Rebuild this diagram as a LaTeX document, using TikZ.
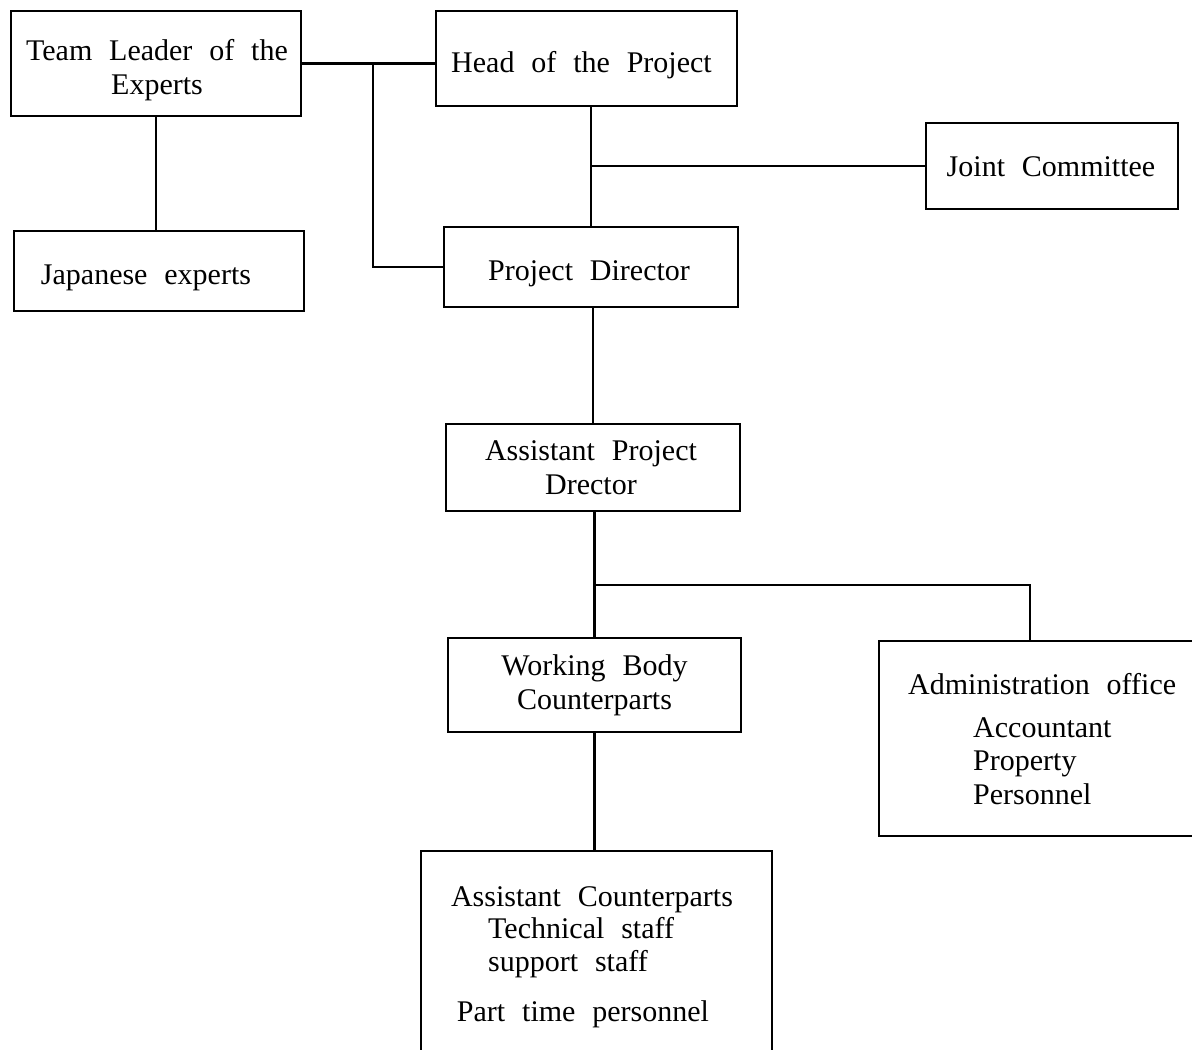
\documentclass[tikz,border=0pt]{standalone}
\usepackage{fontspec}
\setmainfont[WordSpace=2.25]{Liberation Serif}
\begin{document}
\begin{tikzpicture}[x=1pt,y=-1pt,
  box/.style={draw, line width=2pt, inner sep=0pt, anchor=north west},
  lbl/.style={inner sep=0pt, align=center, font=\fontsize{30}{34}\selectfont},
  txt/.style={inner sep=0pt, anchor=base west, font=\fontsize{30}{34}\selectfont},
  conn/.style={line width=2.6pt}]
\useasboundingbox (0,0) rectangle (1192,1050);
\clip (0,0) rectangle (1192,1050);
\fill[white] (0,0) rectangle (1192,1050);

% boxes
\node[box, minimum width=290pt, minimum height=105pt] (tl) at (10,10) {};
\node[box, minimum width=301pt, minimum height=95pt] (head) at (435,10) {};
\node[box, minimum width=252pt, minimum height=86pt] (joint) at (925,122) {};
\node[box, minimum width=290pt, minimum height=80pt] (jap) at (13,230) {};
\node[box, minimum width=294pt, minimum height=80pt] (pd) at (443,226) {};
\node[box, minimum width=294pt, minimum height=87pt] (apd) at (445,423) {};
\node[box, minimum width=293pt, minimum height=94pt] (wb) at (447,637) {};
\node[box, minimum width=400pt, minimum height=195pt] (admin) at (878,640) {};
\node[box, minimum width=351pt, minimum height=260pt] (bot) at (420,850) {};

% box labels
\node[lbl] (tl-l) at ([shift={(1,7)}]tl.center) {Team Leader of the\\Experts};
\node[lbl] (head-l) at ([shift={(-5,7)}]head.center) {Head of the Project};
\node[lbl] (joint-l) at ([shift={(-1,1)}]joint.center) {Joint Committee};
\node[lbl] (jap-l) at ([shift={(-13,7)}]jap.center) {Japanese experts};
\node[lbl] (pd-l) at ([shift={(-2,7)}]pd.center) {Project Director};
\node[lbl] (apd-l) at ([shift={(-2,0)}]apd.center) {Assistant Project\\Drector};
\node[lbl] (wb-l) at (wb.center) {Working Body\\Counterparts};

% admin texts
\node[txt] (ad1) at (908,694) {Administration office};
\node[txt] (ad2) at (973,737) {Accountant};
\node[txt] (ad3) at (973,770) {Property};
\node[txt] (ad4) at (973,804) {Personnel};

% bottom box texts
\node[txt, anchor=base] (bt1) at (592,906) {Assistant Counterparts};
\node[txt] (bt2) at (488,938) {Technical staff};
\node[txt] (bt3) at (488,971) {support staff};
\node[txt, anchor=base] (bt4) at (583,1021) {Part time personnel};

% connectors
\coordinate (j1) at (373,62.5);
\coordinate (y585) at (0,585);
\draw[conn] (tl.east) -- (tl.east -| head.west);
\draw[conn] (j1) |- (pd.west);
\draw[conn] (tl.south) -- (tl.south |- jap.north);
\draw[conn] (pd.north) -- (pd.north |- head.south);
\draw[conn] (pd.north |- joint.west) -- (joint.west);
\draw[conn] (apd.north) -- (apd.north |- pd.south);
\draw[conn] (wb.north) -- (wb.north |- apd.south);
\coordinate (j3) at (wb.north |- y585);
\coordinate (adtop) at ([xshift=152pt]admin.north west);
\draw[conn] (j3) -| (adtop);
\draw[conn] (wb.south) -- (wb.south |- bot.north);
\end{tikzpicture}
\end{document}
